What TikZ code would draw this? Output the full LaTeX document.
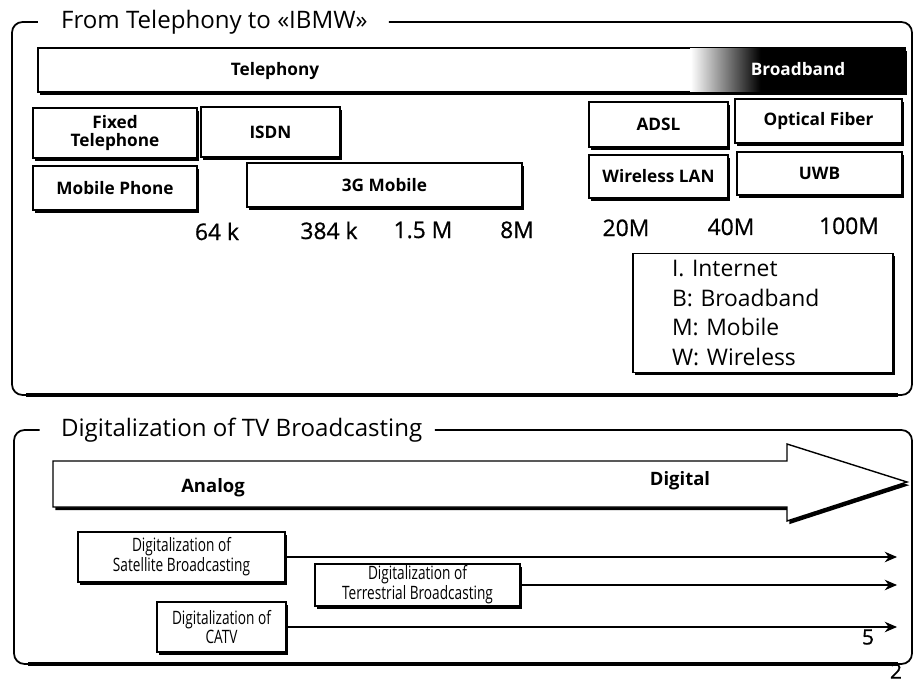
\documentclass[tikz,border=0pt]{standalone}
\usepackage{fontspec}
\setmainfont{Open Sans}
\newfontfamily\condfont[FakeStretch=0.74]{Open Sans}
\newfontfamily\heavyfont[FakeBold=0.8]{Open Sans}
\usetikzlibrary{arrows.meta,shadows}

\begin{document}
\begin{tikzpicture}[
  x=0.02cm, y=-0.02cm,
  >={Stealth[length=7pt,width=6pt]},
  every node/.style={inner sep=1pt},
  box/.style={draw, line width=0.8pt, fill=white, align=center,
              font=\fontsize{9.8}{10.5}\selectfont\bfseries,
              drop shadow={shadow xshift=1.3pt, shadow yshift=-1.6pt,
                           opacity=1, fill=black}},
  tvbox/.style={box, font=\condfont\fontsize{10.5}{9.2}\selectfont},
  panel/.style={line width=1pt, rounded corners=6pt},
  heading/.style={anchor=west, font=\fontsize{13.7}{15}\selectfont},
  rate/.style={anchor=base, font=\heavyfont\fontsize{13}{15}\selectfont},
  conn/.style={->, line width=0.8pt},
]
  \useasboundingbox (0,0) rectangle (916,682);

  % Upper panel
  \node[heading] (toptitle) at (59,22) {From Telephony to «IBMW»};
  \draw[panel] ([xshift=11pt]toptitle.east) -- (912,22) -- (912,395)
    -- (12,395) -- (12,22) -- ([xshift=-12pt]toptitle.west);
  \draw[line width=2.2pt] (26,395) -- (898,395);

  \node[box, minimum width=17.34cm, minimum height=0.88cm, inner sep=0]
    (telephony) at (471.5,70) {};
  \shade[left color=white, right color=black]
    ([xshift=-4.3cm]telephony.north east) rectangle
    ([xshift=-2.9cm]telephony.south east);
  \fill[black] ([xshift=-2.9cm]telephony.north east) rectangle
    (telephony.south east);
  \draw[line width=0.8pt] (telephony.north west) rectangle
    (telephony.south east);
  \node[font=\fontsize{9.8}{10.5}\selectfont\bfseries] (telephonylbl)
    at (275,71) {Telephony};
  \node[font=\fontsize{9.8}{10.5}\selectfont\bfseries, text=white]
    (broadband) at (798,69) {Broadband};

  \node[box, minimum width=3.28cm, minimum height=1cm] (fixed)
    at (115,133) {Fixed\\Telephone};
  \node[box, minimum width=2.78cm, minimum height=1cm] (isdn)
    at (270.5,132) {ISDN};
  \node[box, minimum width=3.28cm, minimum height=0.88cm] (mobile)
    at (115,188) {Mobile Phone};
  \node[box, minimum width=5.5cm, minimum height=0.88cm] (threeg)
    at (384.5,185) {3G Mobile};
  \node[box, minimum width=2.78cm, minimum height=0.9cm] (adsl)
    at (658.5,124.5) {ADSL};
  \node[box, minimum width=3.34cm, minimum height=0.88cm] (fiber)
    at (818.5,121) {Optical Fiber};
  \node[box, minimum width=2.78cm, minimum height=0.86cm] (wlan)
    at (658.5,176.5) {Wireless LAN};
  \node[box, minimum width=3.3cm, minimum height=0.86cm] (uwb)
    at (819.5,173.5) {UWB};

  % Transmission rates
  \node[rate] (r64)   at (217,240) {64 k};
  \node[rate] (r384)  at (329,239) {384 k};
  \node[rate] (r15)   at (423,238) {1.5 M};
  \node[rate] (r8)    at (517,238) {8M};
  \node[rate] (r20)   at (626,236) {20M};
  \node[rate] (r40)   at (731,235) {40M};
  \node[rate] (r100)  at (849,234) {100M};

  \node[box, minimum width=5.2cm, minimum height=2.38cm, inner sep=0,
        text width=3.64cm, align=left,
        font=\fontsize{13}{17}\selectfont] (legend) at (763,313)
    {I. Internet\\B: Broadband\\M: Mobile\\W: Wireless};

  % Lower panel
  \node[heading] (tvtitle) at (59,430) {Digitalization of TV Broadcasting};
  \draw[panel] ([xshift=6pt]tvtitle.east) -- (912,430) -- (912,664)
    -- (14,664) -- (14,430) -- ([xshift=-11pt]tvtitle.west);
  \draw[line width=2.2pt] (28,664) -- (898,664);

  \draw[line width=0.8pt, fill=white,
        drop shadow={shadow xshift=1.3pt, shadow yshift=-1.8pt,
                     opacity=1, fill=black}]
    (53,461) -- (787,461) -- (787,444) -- (907,482) -- (787,521)
    -- (787,507) -- (53,507) -- cycle;
  \node[font=\fontsize{10.5}{12}\selectfont\bfseries] (analog)
    at (213,488) {Analog};
  \node[font=\fontsize{10.5}{12}\selectfont\bfseries] (digital)
    at (680,481) {Digital};

  \node[tvbox, minimum width=4.14cm, minimum height=1cm] (satellite)
    at (181.5,557) {Digitalization of\\Satellite Broadcasting};
  \node[tvbox, minimum width=4.1cm, minimum height=0.76cm] (terrestrial)
    at (417.5,585) {Digitalization of\\Terrestrial Broadcasting};
  \node[tvbox, minimum width=2.58cm, minimum height=1cm] (catv)
    at (221.5,627) {Digitalization of\\CATV};

  \coordinate (tipx) at (897,0);
  \draw[conn] (satellite.east) -- (satellite.east -| tipx);
  \draw[conn] (terrestrial.east) -- (terrestrial.east -| tipx);
  \draw[conn] (catv.east) -- (catv.east -| tipx);

  \node[font=\heavyfont\fontsize{12}{14}\selectfont] (five)
    at (868,637) {5};
  \node[font=\heavyfont\fontsize{12}{14}\selectfont] (two)
    at (896,671) {2};
\end{tikzpicture}
\end{document}
